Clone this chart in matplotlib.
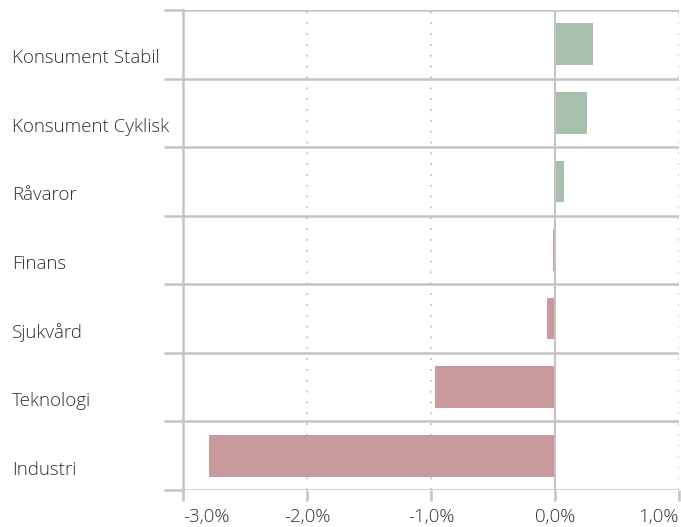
import numpy as np
import matplotlib
matplotlib.use("Agg")
import matplotlib.pyplot as plt
import matplotlib.transforms as mtransforms

categories = ["Konsument Stabil", "Konsument Cyklisk", "Råvaror", "Finans",
              "Sjukvård", "Teknologi", "Industri"]
values = [0.31, 0.26, 0.07, -0.02, -0.065, -0.97, -2.79]
xticks = [-3, -2, -1, 0, 1]
xlabels = ["-3,0%", "-2,0%", "-1,0%", "0,0%", "1,0%"]

green = "#a7bfad"
red = "#c99a9b"
grid_c = "#c4c4c4"
txt_c = "#303030"

plt.rcParams['font.family'] = ['Open Sans', 'DejaVu Sans']

fig = plt.figure(figsize=(6.81, 5.27), dpi=100)
ax = fig.add_axes([183/681, 1 - 490/527, 496/681, 480/527])

y = np.arange(len(categories))
cols = [green if v >= 0 else red for v in values]
ax.barh(y, values, height=0.61, color=cols, zorder=3)

ax.set_xlim(-3, 1)
ax.set_ylim(len(categories) - 0.5, -0.5)

# vertical dotted grid + solid zero line
for xt in xticks:
    if xt == 0:
        ax.axvline(xt, color=grid_c, lw=1.5, zorder=4)
    elif xt != -3:
        ax.axvline(xt, color=grid_c, lw=1.3, ls=(0, (1, 5)), zorder=1)

# horizontal separators between categories
for b in np.arange(-0.5, len(categories), 1.0):
    ax.axhline(b, color=grid_c, lw=1.8, zorder=2)

for s in ["top", "right", "bottom"]:
    ax.spines[s].set_visible(False)
ax.spines["left"].set_color(grid_c)
ax.spines["left"].set_linewidth(1.8)

ax.set_xticks(xticks)
ax.set_xticklabels(xlabels, fontsize=13.5, color=txt_c, fontweight="light")
ax.tick_params(axis="x", length=8, width=1.8, color=grid_c, pad=5)
tl = ax.get_xticklabels()
tl[0].set_ha("left")
tl[-1].set_ha("right")

ax.set_yticks(np.arange(-0.5, len(categories), 1.0))
ax.set_yticklabels([])
ax.tick_params(axis="y", length=14, width=1.8, color=grid_c)

trans = mtransforms.blended_transform_factory(fig.transFigure, ax.transData)
off = mtransforms.ScaledTranslation(0, -14 / 100, fig.dpi_scale_trans)
for i, c in enumerate(categories):
    ax.text(12 / 681, i, c, transform=trans + off, ha="left", va="center",
            fontsize=13.5, color=txt_c, fontweight="light")

fig.savefig("out.png", dpi=100)
